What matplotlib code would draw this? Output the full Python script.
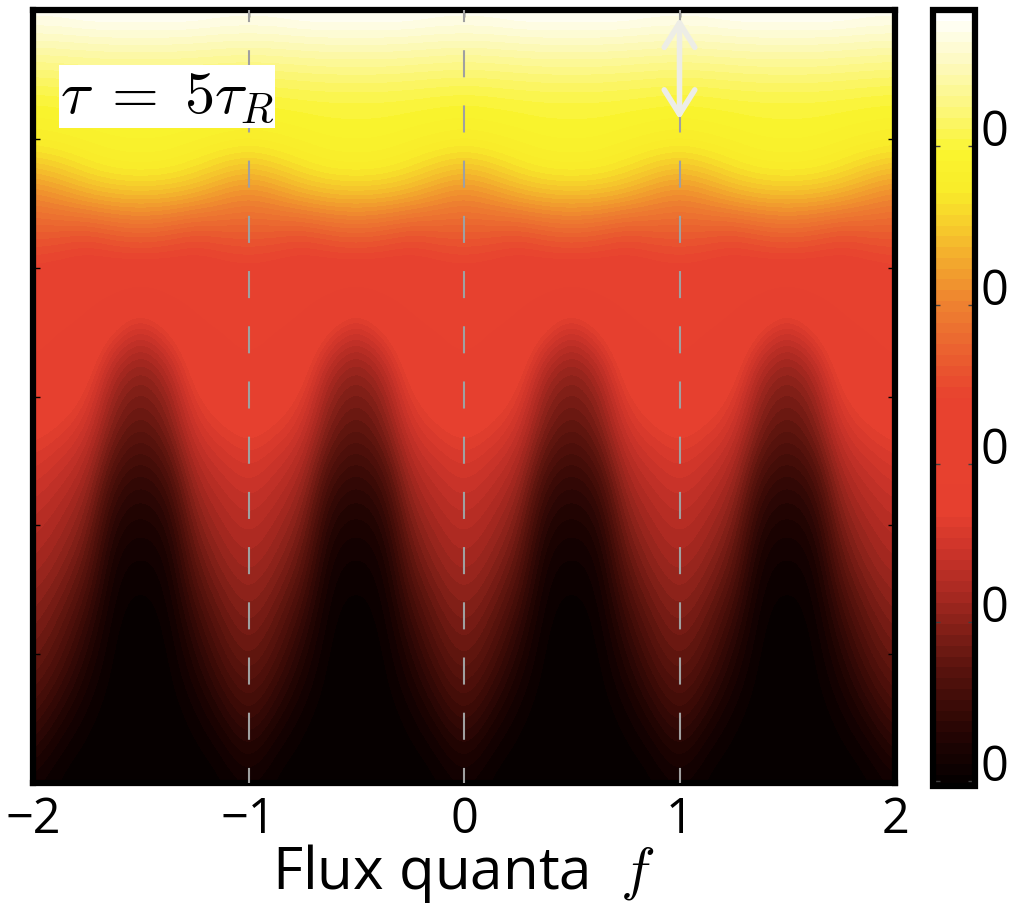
import numpy as np
import matplotlib
matplotlib.use("Agg")
import matplotlib.pyplot as plt
from matplotlib.colors import LinearSegmentedColormap

# ---- data ----------------------------------------------------------------
# flux axis and the one-period colour field (fraction of the colour range),
# rows from the top of the panel (y = 6) down to the bottom (y = 0),
# columns at f offsets 0, 1/8, ... 7/8 inside one flux period.
F_MIN, F_MAX = -2, 2
F_STEP = 0.125
Y_MIN, Y_MAX = 0, 6
Y_STEP = 0.25
PERIOD_FIELD = [
    [0.990, 0.990, 1.000, 1.000, 1.000, 1.000, 1.000, 0.990],
    [0.930, 0.932, 0.935, 0.938, 0.938, 0.938, 0.935, 0.932],
    [0.865, 0.868, 0.872, 0.875, 0.875, 0.875, 0.872, 0.868],
    [0.815, 0.818, 0.822, 0.825, 0.825, 0.825, 0.822, 0.818],
    [0.785, 0.792, 0.800, 0.808, 0.810, 0.808, 0.800, 0.792],
    [0.700, 0.720, 0.750, 0.770, 0.775, 0.770, 0.750, 0.720],
    [0.610, 0.630, 0.655, 0.670, 0.675, 0.670, 0.655, 0.630],
    [0.550, 0.545, 0.530, 0.550, 0.560, 0.550, 0.530, 0.545],
    [0.495, 0.485, 0.475, 0.480, 0.485, 0.480, 0.475, 0.485],
    [0.455, 0.450, 0.445, 0.425, 0.385, 0.425, 0.445, 0.450],
    [0.440, 0.430, 0.420, 0.350, 0.290, 0.350, 0.420, 0.430],
    [0.430, 0.420, 0.390, 0.270, 0.220, 0.270, 0.390, 0.420],
    [0.410, 0.380, 0.350, 0.220, 0.180, 0.220, 0.350, 0.380],
    [0.365, 0.345, 0.310, 0.185, 0.145, 0.185, 0.310, 0.345],
    [0.330, 0.305, 0.270, 0.140, 0.105, 0.140, 0.270, 0.305],
    [0.300, 0.275, 0.235, 0.095, 0.070, 0.095, 0.235, 0.275],
    [0.275, 0.250, 0.200, 0.060, 0.045, 0.060, 0.200, 0.250],
    [0.255, 0.225, 0.165, 0.035, 0.025, 0.035, 0.165, 0.225],
    [0.230, 0.195, 0.130, 0.020, 0.012, 0.020, 0.130, 0.195],
    [0.205, 0.165, 0.095, 0.010, 0.006, 0.010, 0.095, 0.165],
    [0.180, 0.135, 0.065, 0.005, 0.002, 0.005, 0.065, 0.135],
    [0.150, 0.100, 0.040, 0.002, 0.000, 0.002, 0.040, 0.100],
    [0.115, 0.062, 0.018, 0.000, 0.000, 0.000, 0.018, 0.062],
    [0.075, 0.026, 0.006, 0.000, 0.000, 0.000, 0.006, 0.026],
    [0.032, 0.008, 0.000, 0.000, 0.000, 0.000, 0.000, 0.008],
]
N_PERIODS = 4

X_TICKS = [-2, -1, 0, 1, 2]
Y_TICKS = [1, 2, 3, 4, 5]
DASHED_F = [-1, 0, 1]
CBAR_TICKS = [0.006, 0.211, 0.415, 0.620, 0.825]
CBAR_LABELS = ["0", "0", "0", "0", "0"]
ARROW_F = 1
ARROW_Y = (5.15, 5.94)
LABEL_TEXT = r"$\tau\;=\;5\tau_R$"
XLABEL = r"Flux quanta $\;f$"

# colour ramp: black -> dark red -> red plateau -> orange -> yellow -> white
CMAP_NODES = [
    (0.00, "#060000"),
    (0.05, "#1e0302"),
    (0.10, "#3c0b07"),
    (0.15, "#5c140e"),
    (0.20, "#842018"),
    (0.25, "#ac2a22"),
    (0.30, "#cc342a"),
    (0.35, "#e6402f"),
    (0.50, "#e8422f"),
    (0.53, "#e9502f"),
    (0.57, "#eb6630"),
    (0.62, "#ee8030"),
    (0.67, "#f2a22e"),
    (0.72, "#f6c82c"),
    (0.77, "#f9ec2a"),
    (0.82, "#faf42e"),
    (0.88, "#fcf77e"),
    (0.94, "#fdfac2"),
    (1.00, "#ffffff"),
]

plt.rcParams["font.family"] = ["Open Sans", "DejaVu Sans"]
plt.rcParams["mathtext.fontset"] = "cm"

field = np.array(PERIOD_FIELD)
full = np.hstack([np.tile(field, (1, N_PERIODS)), field[:, :1]])

cmap = LinearSegmentedColormap.from_list("flux", CMAP_NODES, N=72)

fig = plt.figure(figsize=(10.10, 9.11), dpi=100)
ax = fig.add_axes([33 / 1010, (911 - 783) / 911, 862 / 1010, 773 / 911])
cax = fig.add_axes([933 / 1010, (911 - 786) / 911, 42 / 1010, 776 / 911])

im = ax.imshow(
    full,
    cmap=cmap,
    vmin=0,
    vmax=1,
    origin="upper",
    aspect="auto",
    interpolation="bicubic",
    extent=(F_MIN - F_STEP / 2, F_MAX + F_STEP / 2, Y_MIN - Y_STEP / 2, Y_MAX + Y_STEP / 2),
)
ax.set_xlim(F_MIN, F_MAX)
ax.set_ylim(Y_MIN, Y_MAX)

for f in DASHED_F:
    ax.plot([f, f], [Y_MAX, Y_MIN], color="#a0a0a0", lw=1.5,
            ls=(7.2, (13, 13.5)), zorder=3)

ax.annotate(
    "",
    xy=(ARROW_F, ARROW_Y[1]),
    xytext=(ARROW_F, ARROW_Y[0]),
    arrowprops=dict(arrowstyle="<->,head_length=0.8,head_width=0.5",
                    color="#ededE6", lw=4, mutation_scale=22,
                    shrinkA=0, shrinkB=0, capstyle="round"),
    zorder=4,
)

ax.text(0.031, 0.927, LABEL_TEXT, transform=ax.transAxes, fontsize=43.5,
        ha="left", va="top", color="black", zorder=5,
        bbox=dict(facecolor="white", edgecolor="none", pad=1))

ax.set_xticks(X_TICKS)
ax.set_xticklabels([f"{t:d}".replace("-", "\u2212") for t in X_TICKS])
ax.set_yticks(Y_TICKS)
ax.set_yticklabels([])
ax.tick_params(direction="in", length=5, width=1, top=True, right=True,
               labelsize=35, pad=9)
for s in ax.spines.values():
    s.set_linewidth(4.5)
ax.set_xlabel(XLABEL, fontsize=42, labelpad=-2)

cbar = fig.colorbar(im, cax=cax)
cbar.set_ticks(CBAR_TICKS)
cbar.set_ticklabels(CBAR_LABELS)
cbar.outline.set_linewidth(4.5)
cax.tick_params(direction="in", length=5, width=1, left=True, right=True,
                color="#404040", labelsize=35, pad=4)
for lab in cax.get_yticklabels():
    lab.set_verticalalignment("baseline")

fig.savefig("out.png", dpi=100)
